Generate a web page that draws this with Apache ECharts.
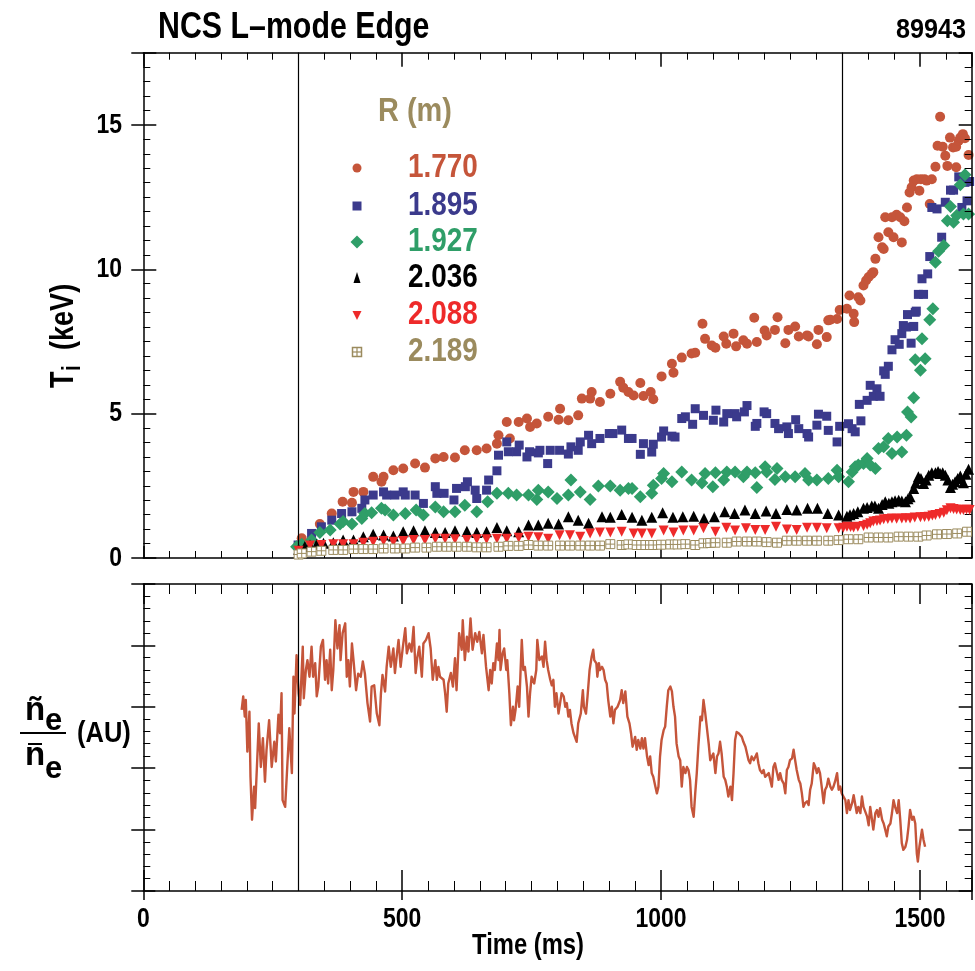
<!DOCTYPE html>
<html><head><meta charset="utf-8">
<script src="https://cdn.jsdelivr.net/npm/echarts@6/dist/echarts.min.js"></script>
<style>html,body{margin:0;padding:0;background:#fff}#c{width:975px;height:971px}</style>
</head><body><div id="c"></div>
<script>
const FONT = "'Liberation Sans',Arial,sans-serif";
const NARROW = 0.82;
const titleText = 'NCS L\u2013mode Edge';
const shotText = '89943';
const xTicks = [0, 500, 1000, 1500];
const tiTicks = [0, 5, 10, 15];
const legendTitle = 'R (m)';
const radii = ['1.770', '1.895', '1.927', '2.036', '2.088', '2.189'];
const colors = ['#c5553a', '#3b3a8c', '#2f9e68', '#000000', '#ee2a2a', '#9b8b5e'];
const vLines = [300, 1350];

const ti1770 = [[306,0.68],[341,1.18],[364,1.54],[385,1.95],[403,1.91],[406,2.29],[425,2.29],[444,2.81],[460,2.64],[464,2.81],[483,3.04],[502,3.10],[525,3.27],[544,3.13],[564,3.45],[580,3.50],[602,3.48],[621,3.73],[644,3.73],[663,3.79],[683,3.96],[686,4.25],[702,4.71],[708,4.14],[725,4.71],[741,4.83],[747,4.54],[760,4.66],[782,4.89],[802,4.79],[805,5.17],[821,4.77],[840,4.94],[847,5.52],[863,5.52],[866,5.75],[882,5.40],[902,5.69],[921,6.10],[927,5.90],[937,5.75],[947,5.63],[960,6.06],[966,5.61],[980,5.75],[985,5.50],[1001,6.29],[1021,6.73],[1024,6.42],[1040,6.94],[1059,7.08],[1066,7.11],[1080,8.11],[1085,7.59],[1098,7.36],[1105,7.28],[1121,7.67],[1126,7.42],[1140,7.77],[1145,7.33],[1159,7.54],[1166,7.42],[1180,8.32],[1185,7.48],[1200,7.88],[1204,7.71],[1220,7.90],[1225,8.34],[1240,7.44],[1246,7.90],[1259,8.02],[1266,7.67],[1282,7.71],[1285,7.67],[1301,7.40],[1304,7.90],[1320,7.65],[1323,8.23],[1327,8.25],[1340,8.28],[1345,8.59],[1359,8.63],[1364,9.09],[1372,8.46],[1373,8.17],[1381,9.03],[1385,8.92],[1391,9.44],[1396,9.61],[1401,9.73],[1407,9.84],[1410,9.90],[1414,10.36],[1420,11.11],[1427,10.76],[1430,10.70],[1433,11.80],[1439,11.28],[1446,11.80],[1449,11.11],[1455,11.89],[1462,11.80],[1465,10.93],[1470,11.66],[1475,12.14],[1480,12.66],[1484,12.84],[1488,13.07],[1494,13.12],[1499,12.72],[1502,13.12],[1509,13.12],[1513,13.07],[1519,12.26],[1523,13.12],[1530,13.55],[1534,14.28],[1539,15.28],[1544,14.24],[1549,13.93],[1553,13.58],[1558,14.56],[1564,14.22],[1570,14.24],[1570,13.53],[1575,14.45],[1578,14.56],[1583,14.68],[1587,14.54],[1594,13.96]];

const ti1895 = [[299,0.45],[325,0.85],[344,1.08],[364,1.31],[383,1.54],[403,1.60],[422,1.72],[428,2.01],[444,2.18],[464,2.29],[470,2.18],[486,2.18],[502,2.29],[506,2.18],[525,2.18],[541,1.89],[564,2.47],[567,2.24],[581,2.24],[600,2.01],[605,2.41],[622,2.47],[626,2.64],[641,2.35],[644,2.06],[663,2.35],[667,2.70],[683,3.02],[686,3.56],[702,4.02],[705,3.68],[721,3.68],[726,3.91],[741,3.50],[746,3.68],[763,3.64],[766,3.73],[781,3.27],[786,3.73],[804,3.73],[821,3.60],[826,3.85],[840,3.73],[844,4.02],[860,4.25],[866,3.96],[882,4.14],[900,4.31],[907,4.31],[924,4.43],[937,4.14],[944,4.14],[960,3.59],[966,3.96],[982,3.67],[985,3.94],[1001,4.19],[1005,4.40],[1021,4.22],[1027,4.19],[1040,4.83],[1047,4.89],[1061,4.63],[1066,5.17],[1082,4.94],[1101,4.77],[1106,5.12],[1121,4.71],[1127,5.00],[1143,5.00],[1146,4.89],[1161,5.06],[1166,5.28],[1182,4.56],[1185,4.66],[1199,5.06],[1204,5.00],[1220,4.66],[1227,4.48],[1243,4.54],[1246,4.31],[1260,4.79],[1266,4.48],[1282,4.31],[1285,4.19],[1301,4.60],[1304,4.98],[1320,4.91],[1323,4.42],[1340,4.02],[1345,4.56],[1362,4.65],[1369,4.48],[1375,4.37],[1383,5.32],[1386,4.75],[1398,5.46],[1404,5.98],[1410,5.60],[1417,5.86],[1423,5.60],[1430,6.48],[1433,6.36],[1439,6.64],[1446,7.21],[1452,7.56],[1460,7.40],[1465,7.77],[1468,8.05],[1474,8.00],[1476,8.43],[1483,7.44],[1488,8.02],[1491,8.51],[1493,8.55],[1497,9.13],[1504,9.67],[1507,9.13],[1515,9.84],[1519,10.44],[1523,12.14],[1533,12.09],[1542,11.11],[1549,12.32],[1559,12.74],[1565,12.74],[1575,13.20],[1581,12.14],[1587,13.01],[1591,12.37],[1596,13.04]];

const ti1927 = [[296,0.39],[306,0.48],[325,0.62],[341,0.88],[361,0.97],[380,1.18],[386,1.26],[403,1.18],[422,1.37],[428,1.54],[441,1.57],[460,1.72],[467,1.66],[483,1.49],[506,1.54],[527,1.66],[541,1.49],[564,1.77],[580,1.60],[602,1.60],[621,1.83],[644,1.60],[665,1.95],[683,2.24],[705,2.24],[721,2.18],[744,2.18],[760,2.03],[763,2.35],[782,2.29],[799,2.06],[821,2.18],[826,2.70],[844,2.29],[863,2.03],[879,2.49],[902,2.49],[921,2.35],[937,2.41],[944,2.41],[960,2.12],[982,2.24],[985,2.52],[1001,2.75],[1005,2.93],[1021,2.64],[1040,2.98],[1059,2.70],[1079,2.60],[1085,2.93],[1100,2.47],[1105,2.95],[1121,2.70],[1127,2.98],[1143,2.98],[1159,2.81],[1166,2.98],[1182,2.95],[1185,2.44],[1201,3.16],[1204,2.98],[1220,2.72],[1224,3.10],[1240,2.81],[1259,2.81],[1278,2.93],[1285,2.70],[1301,2.70],[1323,2.75],[1340,3.04],[1343,2.81],[1362,2.64],[1369,2.98],[1375,3.16],[1381,3.22],[1391,3.27],[1398,3.45],[1404,3.22],[1414,3.10],[1420,3.79],[1430,3.85],[1439,4.14],[1446,3.62],[1456,4.19],[1465,3.67],[1474,4.25],[1476,5.06],[1483,4.88],[1488,5.55],[1491,6.87],[1501,6.50],[1504,7.59],[1510,6.90],[1519,8.25],[1525,8.63],[1530,10.24],[1536,10.62],[1546,10.82],[1553,11.68],[1559,12.17],[1565,11.63],[1571,11.86],[1578,12.93],[1584,11.91],[1587,13.27],[1594,11.91]];

const ti2036 = [[300,0.30],[312,0.40],[322,0.45],[335,0.48],[348,0.51],[367,0.53],[386,0.62],[406,0.62],[425,0.74],[444,0.82],[464,0.80],[483,0.76],[502,0.91],[522,0.94],[544,0.94],[564,0.88],[583,0.88],[602,0.94],[625,0.93],[644,0.88],[663,0.91],[683,1.06],[702,0.94],[725,0.91],[744,1.14],[763,1.14],[782,1.20],[802,1.18],[821,1.43],[840,1.31],[860,1.20],[886,1.43],[902,1.41],[924,1.51],[944,1.41],[963,1.31],[982,1.41],[1003,1.57],[1023,1.41],[1042,1.43],[1063,1.45],[1083,1.37],[1103,1.43],[1123,1.60],[1142,1.54],[1162,1.66],[1182,1.54],[1203,1.63],[1222,1.54],[1243,1.68],[1262,1.66],[1283,1.72],[1302,1.72],[1322,1.54],[1343,1.49],[1359,1.45],[1365,1.50],[1372,1.54],[1380,1.60],[1391,1.72],[1398,1.75],[1407,1.80],[1413,1.80],[1420,1.72],[1427,1.85],[1433,1.95],[1440,1.90],[1446,1.95],[1452,1.98],[1459,2.00],[1465,1.97],[1472,1.95],[1477,2.05],[1481,2.12],[1488,2.41],[1492,2.60],[1497,2.81],[1502,2.75],[1507,2.58],[1512,2.70],[1517,2.87],[1523,2.95],[1530,2.95],[1535,3.00],[1539,2.93],[1544,2.95],[1549,2.87],[1554,2.70],[1559,2.44],[1563,2.55],[1568,2.64],[1573,2.75],[1578,2.84],[1584,2.61],[1589,2.90],[1594,3.07]];

const ti2088 = [[300,0.25],[322,0.43],[344,0.45],[367,0.48],[386,0.48],[406,0.48],[425,0.53],[444,0.56],[464,0.59],[483,0.56],[502,0.59],[522,0.62],[544,0.62],[564,0.67],[583,0.67],[602,0.65],[625,0.62],[644,0.65],[663,0.65],[683,0.67],[702,0.67],[725,0.70],[744,0.74],[763,0.72],[782,0.67],[804,0.79],[824,0.79],[844,0.74],[863,0.85],[882,0.88],[902,0.88],[924,0.91],[947,0.85],[963,0.85],[982,0.85],[1005,0.95],[1024,0.88],[1043,0.95],[1063,0.95],[1082,1.03],[1105,0.91],[1126,1.05],[1143,0.95],[1164,1.03],[1182,0.97],[1201,0.97],[1222,1.08],[1243,0.99],[1262,0.97],[1282,1.05],[1301,1.05],[1320,1.03],[1343,1.03],[1352,1.05],[1359,1.08],[1366,1.07],[1372,1.06],[1380,1.08],[1391,1.11],[1398,1.15],[1404,1.20],[1410,1.26],[1417,1.28],[1423,1.30],[1430,1.34],[1438,1.35],[1446,1.37],[1455,1.36],[1465,1.37],[1473,1.38],[1481,1.37],[1490,1.40],[1501,1.41],[1509,1.42],[1517,1.43],[1524,1.47],[1530,1.49],[1538,1.52],[1546,1.57],[1552,1.65],[1559,1.72],[1565,1.70],[1571,1.68],[1578,1.66],[1584,1.66],[1590,1.68],[1596,1.66]];

const ti2189 = [[300,0.12],[306,0.16],[325,0.22],[344,0.25],[367,0.28],[386,0.28],[406,0.31],[425,0.31],[444,0.31],[464,0.33],[486,0.33],[506,0.33],[525,0.36],[547,0.36],[567,0.39],[586,0.39],[605,0.39],[625,0.39],[644,0.37],[663,0.37],[686,0.39],[705,0.42],[725,0.42],[744,0.45],[763,0.43],[782,0.43],[805,0.43],[824,0.43],[844,0.43],[863,0.43],[882,0.43],[902,0.48],[924,0.45],[937,0.47],[953,0.45],[970,0.45],[985,0.45],[1000,0.46],[1018,0.47],[1032,0.47],[1047,0.48],[1066,0.45],[1082,0.51],[1095,0.52],[1105,0.53],[1127,0.53],[1146,0.57],[1166,0.57],[1185,0.57],[1204,0.55],[1224,0.53],[1243,0.60],[1262,0.60],[1282,0.60],[1301,0.60],[1323,0.60],[1343,0.62],[1362,0.65],[1381,0.65],[1401,0.71],[1420,0.71],[1439,0.71],[1459,0.74],[1478,0.74],[1497,0.74],[1513,0.78],[1533,0.82],[1552,0.83],[1572,0.85],[1591,0.91]];

const neLine = [[190,2.95],[193,3.17],[196,2.84],[198,3.11],[201,2.27],[205,2.92],[207,1.86],[210,1.16],[214,1.70],[216,1.35],[220,2.13],[223,2.73],[227,2.02],[231,2.49],[235,1.78],[238,2.30],[243,2.78],[248,2.02],[253,2.43],[256,2.11],[261,2.87],[264,2.57],[267,3.22],[269,1.48],[274,1.37],[278,2.02],[282,2.65],[287,1.92],[290,3.49],[292,2.89],[296,3.84],[300,3.22],[303,3.03],[308,3.98],[310,3.14],[314,3.60],[317,3.76],[321,3.49],[325,3.98],[328,3.49],[332,3.71],[335,3.17],[338,3.33],[343,3.98],[347,4.09],[351,3.44],[354,3.76],[357,3.38],[361,3.93],[364,3.27],[367,3.60],[371,4.41],[375,3.95],[379,4.33],[381,3.76],[385,4.20],[390,4.36],[393,3.49],[396,3.76],[399,3.33],[403,4.03],[406,3.76],[411,3.27],[415,3.54],[420,3.49],[424,3.74],[428,3.54],[433,3.06],[438,2.76],[441,3.33],[446,3.35],[451,2.89],[456,2.70],[459,3.22],[462,3.52],[467,3.25],[470,3.65],[474,3.98],[478,3.65],[483,3.95],[486,3.55],[490,3.87],[493,4.09],[497,3.65],[501,3.95],[506,4.28],[509,3.87],[514,4.03],[518,3.90],[522,4.30],[526,3.55],[529,3.79],[533,3.98],[538,3.49],[541,4.03],[546,4.09],[551,4.20],[555,3.95],[559,3.44],[564,3.76],[567,3.44],[570,3.65],[573,3.49],[580,3.44],[583,3.22],[586,2.92],[589,3.38],[594,3.55],[598,3.33],[602,3.79],[605,3.27],[610,4.20],[615,3.93],[617,4.41],[621,3.76],[625,4.14],[628,3.90],[632,4.44],[636,3.93],[641,4.20],[645,4.06],[649,4.22],[654,3.87],[657,4.17],[662,3.65],[667,3.27],[670,3.60],[673,3.38],[676,3.71],[679,3.60],[683,4.03],[686,3.76],[688,4.25],[690,3.60],[694,3.87],[697,3.95],[701,3.60],[703,3.76],[707,3.22],[710,2.70],[714,3.00],[716,2.78],[719,2.95],[723,3.33],[726,3.00],[731,4.09],[734,3.60],[737,3.65],[741,3.33],[744,2.84],[747,3.22],[750,3.49],[755,3.38],[759,3.60],[761,4.09],[765,3.76],[770,3.82],[773,3.65],[776,4.06],[779,3.76],[782,3.60],[786,3.44],[789,3.35],[792,3.44],[795,3.00],[798,3.22],[802,2.89],[805,3.06],[808,3.22],[812,3.17],[815,3.00],[818,3.06],[821,2.84],[824,2.95],[827,2.73],[831,2.57],[834,2.60],[837,2.43],[840,2.73],[845,2.89],[849,3.27],[851,3.00],[855,2.89],[858,3.17],[862,3.60],[866,3.82],[869,3.93],[871,3.76],[875,3.71],[877,3.49],[880,3.71],[882,3.60],[886,3.65],[889,3.60],[892,3.44],[895,3.38],[898,3.11],[902,2.84],[905,3.00],[908,2.73],[911,2.95],[916,3.00],[921,3.11],[924,3.27],[927,3.06],[931,3.25],[934,3.22],[935,2.84],[939,2.73],[942,2.57],[945,2.35],[950,2.51],[953,2.30],[956,2.46],[960,2.32],[963,2.49],[966,2.32],[969,2.49],[973,2.19],[976,2.05],[979,2.19],[982,1.92],[985,1.86],[989,1.70],[992,1.59],[995,1.70],[998,2.19],[1001,2.46],[1005,2.62],[1008,2.68],[1011,3.00],[1014,3.27],[1018,3.33],[1021,3.25],[1024,3.00],[1027,2.84],[1030,2.40],[1034,2.19],[1037,2.13],[1040,1.70],[1043,2.02],[1047,1.92],[1050,2.02],[1053,1.97],[1056,1.81],[1059,1.37],[1063,1.21],[1066,1.59],[1069,1.92],[1072,2.35],[1076,2.84],[1079,2.78],[1082,3.11],[1085,2.92],[1088,2.89],[1092,2.40],[1095,2.13],[1098,2.19],[1101,2.24],[1105,1.92],[1108,2.19],[1111,2.24],[1114,2.43],[1117,2.24],[1121,1.86],[1124,1.81],[1127,1.70],[1130,1.54],[1134,1.70],[1137,1.48],[1140,1.92],[1143,2.46],[1146,2.59],[1150,2.57],[1153,2.54],[1156,2.51],[1159,2.43],[1163,2.35],[1166,2.24],[1169,2.13],[1172,2.08],[1175,2.19],[1179,2.13],[1182,2.16],[1185,2.24],[1188,2.08],[1191,1.97],[1195,1.92],[1198,1.97],[1201,1.86],[1204,1.83],[1208,1.92],[1211,1.81],[1214,1.70],[1217,2.02],[1220,2.08],[1224,1.92],[1227,1.81],[1230,1.92],[1233,1.81],[1237,1.75],[1240,1.59],[1243,1.97],[1246,2.02],[1249,2.13],[1253,2.16],[1256,2.30],[1259,2.13],[1262,1.97],[1266,1.81],[1269,1.75],[1272,1.59],[1275,1.37],[1278,1.43],[1282,1.46],[1285,1.40],[1288,1.65],[1291,1.75],[1295,2.08],[1298,2.02],[1301,1.92],[1304,2.00],[1307,1.92],[1311,1.65],[1314,1.43],[1317,1.65],[1320,1.70],[1323,1.83],[1327,1.70],[1330,1.65],[1333,1.70],[1336,1.78],[1340,1.92],[1343,1.65],[1346,1.70],[1349,1.59],[1352,1.54],[1356,1.48],[1359,1.27],[1362,1.48],[1365,1.32],[1369,1.43],[1372,1.56],[1375,1.54],[1378,1.27],[1381,1.37],[1385,1.27],[1388,1.54],[1391,1.37],[1394,1.37],[1398,1.21],[1401,1.07],[1404,1.37],[1407,1.35],[1410,1.00],[1414,1.27],[1417,1.32],[1420,1.21],[1423,1.35],[1427,1.16],[1430,1.10],[1433,1.00],[1436,0.89],[1439,1.05],[1443,1.10],[1446,1.27],[1449,1.48],[1452,1.37],[1456,1.27],[1459,1.48],[1462,1.16],[1465,0.78],[1468,0.67],[1472,0.72],[1475,0.83],[1478,1.05],[1481,1.32],[1485,1.16],[1488,1.21],[1491,1.10],[1494,0.61],[1496,0.48],[1499,0.72],[1504,1.00],[1507,0.83],[1510,0.72]];

const tiSeries = [ti1770, ti1895, ti1927, ti2036, ti2088, ti2189];
const symbols = ['circle', 'rect', 'diamond', 'triangle', 'triangle', 'path://M0,0H10V10H0ZM5,0V10M0,5H10'];
const symbolSizes = [10, 9, 13, 11, 10, 9];

const chart = echarts.init(document.getElementById('c'), null, {renderer: 'canvas'});

function ax(o) {
  return {
    type: 'value', gridIndex: o.grid, position: o.pos, min: o.min, max: o.max, interval: o.interval,
    axisLine: {show: o.line !== false, onZero: false, lineStyle: {color: '#000', width: 1.5}},
    axisTick: {show: true, inside: o.inside !== false, length: o.tick, lineStyle: {color: '#000', width: 1.5}},
    minorTick: {show: !!o.minor, splitNumber: o.minor || 5, length: o.minorLen || 7, lineStyle: {color: '#000', width: 1}},
    splitLine: {show: false}, minorSplitLine: {show: false},
    axisLabel: {show: false},
    axisPointer: {show: false}, silent: true, z: 5
  };
}

const xAxes = [
  ax({grid: 0, pos: 'bottom', min: 0, max: 1600, interval: 500, tick: 12, minor: 10, minorLen: 7}),
  ax({grid: 0, pos: 'top', min: 0, max: 1600, interval: 500, tick: 14, minor: 10, minorLen: 7}),
  ax({grid: 1, pos: 'bottom', min: 0, max: 1600, interval: 500, tick: 21, minor: 10, minorLen: 10}),
  ax({grid: 1, pos: 'bottom', min: 0, max: 1600, interval: 500, tick: 9, inside: false, line: false}),
  ax({grid: 1, pos: 'top', min: 0, max: 1600, interval: 500, tick: 20, minor: 10, minorLen: 10})
];
const yAxes = [
  ax({grid: 0, pos: 'left', min: 0, max: 17.5, interval: 5, tick: 13, minor: 10, minorLen: 7}),
  ax({grid: 0, pos: 'left', min: 0, max: 17.5, interval: 5, tick: 12, inside: false, line: false}),
  ax({grid: 0, pos: 'right', min: 0, max: 17.5, interval: 5, tick: 13, minor: 10, minorLen: 7}),
  ax({grid: 1, pos: 'left', min: 0, max: 5, interval: 1, tick: 12, minor: 5, minorLen: 7}),
  ax({grid: 1, pos: 'left', min: 0, max: 5, interval: 1, tick: 12, inside: false, line: false}),
  ax({grid: 1, pos: 'right', min: 0, max: 5, interval: 1, tick: 13, minor: 5, minorLen: 7})
];

const vMark = {
  silent: true, symbol: 'none', label: {show: false},
  lineStyle: {color: '#000', width: 1.2, type: 'solid'},
  emphasis: {disabled: true},
  data: vLines.map(v => ({xAxis: v}))
};

const series = tiSeries.map((d, i) => {
  const s = {
    type: 'scatter', name: radii[i], xAxisIndex: 0, yAxisIndex: 0, data: d,
    symbol: symbols[i], symbolSize: symbolSizes[i],
    itemStyle: {color: colors[i], opacity: 1},
    emphasis: {disabled: true}, animation: false, z: 2 + i
  };
  if (i === 4) s.symbolRotate = 180;
  if (i === 5) s.itemStyle = {color: '#ffffff', borderColor: colors[5], borderWidth: 1, opacity: 1};
  if (i === 0) s.markLine = vMark;
  return s;
});
series.push({
  type: 'line', name: 'ne', xAxisIndex: 2, yAxisIndex: 3, data: neLine,
  showSymbol: false, symbol: 'none', lineStyle: {color: '#c5553a', width: 2.4, join: 'round'},
  emphasis: {disabled: true}, animation: false, markLine: vMark, z: 3
});

chart.setOption({
  backgroundColor: '#ffffff',
  animation: false,
  grid: [
    {left: 143.3, top: 52.7, right: 3.3, height: 505.3, outerBoundsMode: 'none', containLabel: false},
    {left: 143.3, top: 584, right: 3.3, height: 307, outerBoundsMode: 'none', containLabel: false}
  ],
  xAxis: xAxes,
  yAxis: yAxes,
  series: series
});

// text helpers (condensed bold, like Helvetica Condensed)
function txt(text, x, y, size, align, color, scale) {
  return {type: 'text', x: x, y: y, scaleX: scale == null ? NARROW : scale, silent: true,
    style: {text: text, align: align || 'left', verticalAlign: 'middle', fontFamily: FONT, fontWeight: 'bold', fontSize: size, fill: color || '#000'}};
}

const legendY = [168, 206, 242, 278, 315, 352];
const lx = 357;
const legendSymbols = [
  {type: 'circle', shape: {cx: lx, cy: legendY[0], r: 4.5}, style: {fill: colors[0]}},
  {type: 'rect', shape: {x: lx - 4.5, y: legendY[1] - 4.5, width: 9, height: 9}, style: {fill: colors[1]}},
  {type: 'polygon', shape: {points: [[lx, legendY[2] - 6.5], [lx + 6.5, legendY[2]], [lx, legendY[2] + 6.5], [lx - 6.5, legendY[2]]]}, style: {fill: colors[2]}},
  {type: 'polygon', shape: {points: [[lx, legendY[3] - 6], [lx + 3.5, legendY[3] + 5], [lx - 3.5, legendY[3] + 5]]}, style: {fill: colors[3]}},
  {type: 'polygon', shape: {points: [[lx - 4.5, legendY[4] - 4], [lx + 4.5, legendY[4] - 4], [lx, legendY[4] + 5]]}, style: {fill: colors[4]}},
  {type: 'group', children: [
    {type: 'rect', shape: {x: lx - 4.5, y: legendY[5] - 4.5, width: 9, height: 9}, style: {fill: '#fff', stroke: colors[5], lineWidth: 1.5}},
    {type: 'line', shape: {x1: lx, y1: legendY[5] - 4.5, x2: lx, y2: legendY[5] + 4.5}, style: {stroke: colors[5], lineWidth: 1.2}},
    {type: 'line', shape: {x1: lx - 4.5, y1: legendY[5], x2: lx + 4.5, y2: legendY[5]}, style: {stroke: colors[5], lineWidth: 1.2}}
  ]}
];
const legendTexts = radii.map((r, i) => txt(r, 408, legendY[i], 34, 'left', colors[i]));

const graphics = [
  txt(titleText, 158, 28, 37, 'left'),
  txt(shotText, 966, 30, 28, 'right', '#000', 0.9),
  txt(legendTitle, 378, 112, 34, 'left', colors[5], 0.85),
  // T_i (keV) rotated label (reads bottom to top)
  {type: 'group', x: 64, y: 388, rotation: Math.PI / 2, children: [
    txt('T', 0, 0, 33, 'left'),
    txt('i', 17, 9, 25, 'left'),
    txt('(keV)', 38, 0, 33, 'left')
  ]},
  // n~e / n-bar e (AU)
  txt('\u00f1', 25, 711, 33, 'left', '#000', 1),
  txt('e', 45, 721, 31, 'left', '#000', 1),
  {type: 'rect', shape: {x: 20, y: 732, width: 46, height: 2}, style: {fill: '#000'}, silent: true},
  txt('n', 25, 756, 33, 'left', '#000', 1),
  {type: 'rect', shape: {x: 28, y: 743, width: 14, height: 2}, style: {fill: '#000'}, silent: true},
  txt('e', 45, 769, 31, 'left', '#000', 1),
  txt('(AU)', 77, 734, 30, 'left', '#000', 0.85),
  // x axis title
  txt('Time (ms)', 528, 946, 29, 'center')
].concat(legendSymbols, legendTexts);

// tick labels placed through the axes' own scales
xTicks.forEach(v => {
  const px = chart.convertToPixel({xAxisIndex: 2}, v);
  graphics.push(txt(String(v), px, 919, 28, 'center'));
});
tiTicks.forEach(v => {
  const py = chart.convertToPixel({yAxisIndex: 0}, v);
  graphics.push(txt(String(v), 122, py, 28, 'right'));
});

chart.setOption({graphic: graphics});
</script></body></html>
